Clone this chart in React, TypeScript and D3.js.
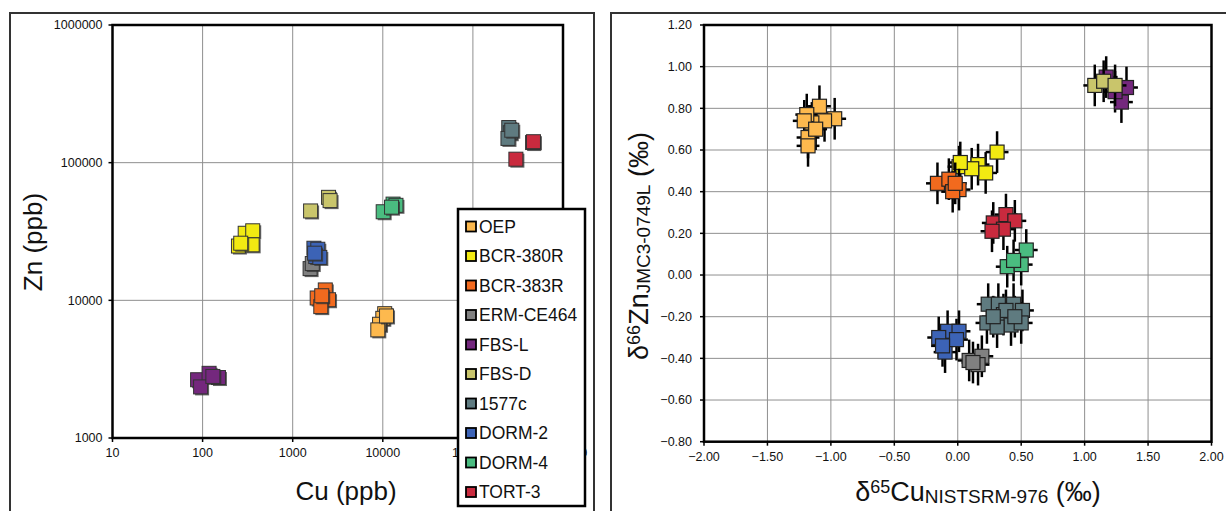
import React from "react";
import * as d3 from "d3";

const series = ["OEP", "BCR-380R", "BCR-383R", "ERM-CE464", "FBS-L", "FBS-D", "1577c", "DORM-2", "DORM-4", "TORT-3"];
const colors = ["#fdb94e", "#f2ea12", "#f26a1e", "#808080", "#74287d", "#c9c56b", "#5f7b80", "#3c63b6", "#4abc80", "#c92a3e"];

// Left panel: [Cu ppb, Zn ppb]
const concOEP = [[10500, 8000], [10000, 7400], [9200, 6700], [8800, 6100], [11000, 7700]];
const concBCR380R = [[297, 30700], [360, 32000], [250, 24800], [355, 25300], [265, 26000]];
const concBCR383R = [[1870, 10400], [2300, 11900], [2500, 10100], [2050, 9000], [2100, 10800]];
const concERM = [[1560, 17000], [1650, 18500]];
const concFBSL = [[88, 2650], [118, 2950], [150, 2750], [95, 2350], [130, 2800]];
const concFBSD = [[1580, 44600], [2500, 56000], [2600, 53000]];
const conc1577c = [[250000, 180000], [260000, 165000], [245000, 150000], [270000, 172000]];
const concDORM2 = [[1720, 23900], [1900, 23500], [1800, 20800], [2000, 20500], [1750, 22000]];
const concDORM4 = [[10100, 44000], [13000, 50000], [14000, 49000], [12500, 47500]];
const concTORT3 = [[460000, 140000], [300000, 106000], [470000, 142000]];

// Right panel: [d65Cu, d66Zn]
const isoOEP = [[-1.09, 0.81], [-0.97, 0.75], [-1.05, 0.74], [-1.15, 0.73], [-1.19, 0.77], [-1.21, 0.74], [-1.18, 0.66], [-1.18, 0.62], [-1.12, 0.70]];
const isoBCR380R = [[0.31, 0.59], [0.01, 0.52], [0.16, 0.53], [0.22, 0.49], [0.11, 0.51], [0.02, 0.54]];
const isoBCR383R = [[-0.16, 0.44], [-0.07, 0.46], [0.01, 0.41], [-0.04, 0.40], [-0.02, 0.44]];
const isoERM = [[0.09, -0.41], [0.19, -0.39], [0.16, -0.43], [0.12, -0.42]];
const isoFBSL = [[1.17, 0.95], [1.33, 0.90], [1.29, 0.83], [1.24, 0.88]];
const isoFBSD = [[1.08, 0.91], [1.15, 0.93], [1.24, 0.91]];
const iso1577c = [[0.24, -0.14], [0.32, -0.14], [0.44, -0.14], [0.51, -0.17], [0.36, -0.19], [0.23, -0.23], [0.42, -0.24], [0.50, -0.23], [0.31, -0.25], [0.38, -0.17], [0.28, -0.20], [0.45, -0.20]];
const isoDORM2 = [[-0.08, -0.27], [0.01, -0.27], [-0.15, -0.30], [-0.10, -0.37], [-0.01, -0.31], [-0.12, -0.34]];
const isoDORM4 = [[0.54, 0.12], [0.39, 0.04], [0.50, 0.05], [0.44, 0.07]];
const isoTORT3 = [[0.28, 0.25], [0.38, 0.29], [0.45, 0.26], [0.36, 0.22], [0.27, 0.21]];

const errX = [0.09, 0.09, 0.09, 0.09, 0.09, 0.09, 0.09, 0.09, 0.09, 0.09];
const errY = [0.1, 0.1, 0.1, 0.1, 0.1, 0.1, 0.1, 0.1, 0.1, 0.1];

const concData = [concOEP, concBCR380R, concBCR383R, concERM, concFBSL, concFBSD, conc1577c, concDORM2, concDORM4, concTORT3];
const isoData = [isoOEP, isoBCR380R, isoBCR383R, isoERM, isoFBSL, isoFBSD, iso1577c, isoDORM2, isoDORM4, isoTORT3];

const logTicksX = [10, 100, 1000, 10000, 100000, 1000000];
const logTicksY = [1000, 10000, 100000, 1000000];
const isoTicksX = [-2, -1.5, -1, -0.5, 0, 0.5, 1, 1.5, 2];
const isoTicksY = [-0.8, -0.6, -0.4, -0.2, 0, 0.2, 0.4, 0.6, 0.8, 1.0, 1.2];

const FONT = "'Liberation Sans', Arial, sans-serif";

export default function App() {
  const xL = d3.scaleLog().domain([10, 1e6]).range([112.5, 563]);
  const yL = d3.scaleLog().domain([1000, 1e6]).range([438, 25]);
  const xR = d3.scaleLinear().domain([-2, 2]).range([704, 1211.5]);
  const yR = d3.scaleLinear().domain([-0.8, 1.2]).range([441.7, 25]);
  const ms = 14;
  const grid = "#8f8f8f";

  return (
    <svg width={1226} height={511} style={{ position: "fixed", left: 0, top: 0, background: "#fff" }} fontFamily={FONT}>
      <rect x={0} y={0} width={1226} height={511} fill="#fff" />
      {/* Left panel frame */}
      <rect x={10} y={13} width={584} height={520} fill="none" stroke="#333" strokeWidth={2} />
      {/* Right panel frame */}
      <rect x={611} y={13} width={640} height={520} fill="none" stroke="#333" strokeWidth={2} />

      {/* LEFT PANEL */}
      <g>
        {logTicksX.slice(1, -1).map((t) => (
          <line key={"gx" + t} x1={xL(t)} x2={xL(t)} y1={yL(1e6)} y2={yL(1000)} stroke={grid} strokeWidth={1} />
        ))}
        {logTicksY.slice(1, -1).map((t) => (
          <line key={"gy" + t} x1={xL(10)} x2={xL(1e6)} y1={yL(t)} y2={yL(t)} stroke={grid} strokeWidth={1} />
        ))}
        {logTicksX.map((t) => (
          <g key={"tx" + t}>
            <line x1={xL(t)} x2={xL(t)} y1={yL(1000)} y2={yL(1000) + 4} stroke="#000" strokeWidth={1.5} />
            <text x={xL(t)} y={yL(1000) + 15} fontSize={12.5} textAnchor="middle" dy="0.35em" fill="#111">{String(t)}</text>
          </g>
        ))}
        {logTicksY.map((t) => (
          <g key={"ty" + t}>
            <line x1={xL(10) - 4} x2={xL(10)} y1={yL(t)} y2={yL(t)} stroke="#000" strokeWidth={1.5} />
            <text x={xL(10) - 10} y={yL(t)} fontSize={12.5} textAnchor="end" dy="0.35em" fill="#111">{String(t)}</text>
          </g>
        ))}
        <rect x={xL(10)} y={yL(1e6)} width={xL(1e6) - xL(10)} height={yL(1000) - yL(1e6)} fill="none" stroke="#000" strokeWidth={2.5} />
        {concData.map((pts, si) => (
          <g key={"cs" + si}>
            {pts.map((p, i) => (
              <g key={i}>
                <rect x={xL(p[0]) - ms / 2 + 1.5} y={yL(p[1]) - ms / 2 + 1.5} width={ms} height={ms} fill="#333" opacity={0.75} />
                <rect x={xL(p[0]) - ms / 2} y={yL(p[1]) - ms / 2} width={ms} height={ms} fill={colors[si]} stroke="#333" strokeWidth={1} />
              </g>
            ))}
          </g>
        ))}
        <text x={346} y={500} fontSize={26} textAnchor="middle" fill="#111">Cu (ppb)</text>
        <text transform="translate(42,242) rotate(-90)" fontSize={26} textAnchor="middle" fill="#111">Zn (ppb)</text>

        {/* Legend */}
        <rect x={458} y={209} width={127} height={297} fill="#fff" stroke="#000" strokeWidth={2.5} />
        {series.map((s, i) => {
          const cy = 226.5 + i * 29.5;
          return (
            <g key={"lg" + s}>
              <rect x={466} y={cy - 5} width={10} height={10} fill={colors[i]} stroke="#000" strokeWidth={1.8} />
              <text x={479} y={cy} dy="0.36em" fontSize={17.5} fill="#111">{s}</text>
            </g>
          );
        })}
      </g>

      {/* RIGHT PANEL */}
      <g>
        {isoTicksX.slice(1, -1).map((t) => (
          <line key={"rgx" + t} x1={xR(t)} x2={xR(t)} y1={yR(1.2)} y2={yR(-0.8)} stroke={grid} strokeWidth={1} />
        ))}
        {isoTicksY.slice(1, -1).map((t) => (
          <line key={"rgy" + t} x1={xR(-2)} x2={xR(2)} y1={yR(t)} y2={yR(t)} stroke={grid} strokeWidth={1} />
        ))}
        {isoTicksX.map((t) => (
          <g key={"rtx" + t}>
            <line x1={xR(t)} x2={xR(t)} y1={yR(-0.8)} y2={yR(-0.8) + 4} stroke="#000" strokeWidth={1.5} />
            <text x={xR(t)} y={yR(-0.8) + 15} fontSize={12.5} textAnchor="middle" dy="0.35em" fill="#111">{d3.format(".2f")(t)}</text>
          </g>
        ))}
        {isoTicksY.map((t) => (
          <g key={"rty" + t}>
            <line x1={xR(-2) - 4} x2={xR(-2)} y1={yR(t)} y2={yR(t)} stroke="#000" strokeWidth={1.5} />
            <text x={xR(-2) - 12} y={yR(t)} fontSize={12.5} textAnchor="end" dy="0.35em" fill="#111">{d3.format(".2f")(t)}</text>
          </g>
        ))}
        <rect x={xR(-2)} y={yR(1.2)} width={xR(2) - xR(-2)} height={yR(-0.8) - yR(1.2)} fill="none" stroke="#000" strokeWidth={2.5} />
        {isoData.map((pts, si) => (
          <g key={"is" + si}>
            {pts.map((p, i) => (
              <g key={"e" + i} stroke="#000" strokeWidth={2.5}>
                <line x1={xR(p[0] - errX[si])} x2={xR(p[0] + errX[si])} y1={yR(p[1])} y2={yR(p[1])} />
                <line x1={xR(p[0])} x2={xR(p[0])} y1={yR(p[1] - errY[si])} y2={yR(p[1] + errY[si])} />
              </g>
            ))}
            {pts.map((p, i) => (
              <rect key={"m" + i} x={xR(p[0]) - ms / 2} y={yR(p[1]) - ms / 2} width={ms} height={ms} fill={colors[si]} stroke="#222" strokeWidth={1.2} />
            ))}
          </g>
        ))}
        <text x={978} y={501} textAnchor="middle" fill="#111" fontSize={27}>
          δ<tspan fontSize={18} dy={-8}>65</tspan><tspan dy={8}>Cu</tspan><tspan fontSize={19} dy={2}>NISTSRM-976</tspan><tspan dy={-2}> (‰)</tspan>
        </text>
        <text transform="translate(648,246) rotate(-90)" textAnchor="middle" fill="#111" fontSize={27}>
          δ<tspan fontSize={18} dy={-8}>66</tspan><tspan dy={8}>Zn</tspan><tspan fontSize={19} dy={2}>JMC3-0749L</tspan><tspan dy={-2}> (‰)</tspan>
        </text>
      </g>
    </svg>
  );
}
